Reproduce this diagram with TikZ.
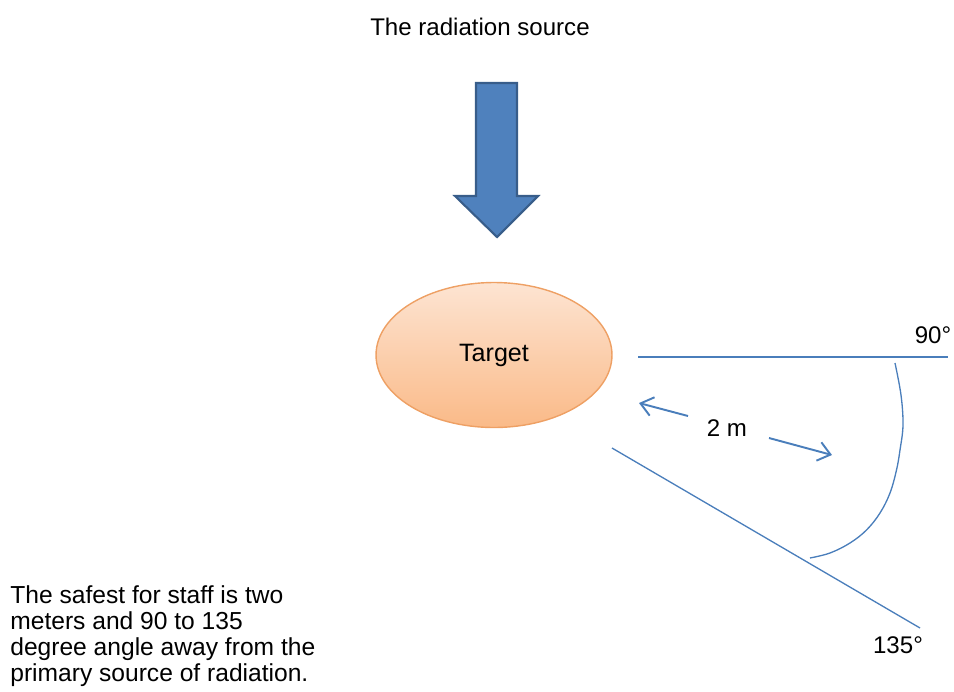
\documentclass[tikz,border=0pt]{standalone}
\usepackage{fontspec}
\setmainfont{Liberation Sans}
\usepackage{xcolor}
\usetikzlibrary{shapes.geometric,arrows.meta,positioning}

\definecolor{lineblue}{RGB}{74,126,187}
\definecolor{beamfill}{RGB}{79,129,189}
\definecolor{beamdraw}{RGB}{56,93,138}
\definecolor{peachtop}{RGB}{253,228,210}
\definecolor{peachbottom}{RGB}{250,186,136}
\definecolor{peachdraw}{RGB}{238,160,100}

\begin{document}
\begin{tikzpicture}[x=0.02cm, y=-0.02cm]
    % Styles
    \tikzstyle{txt}=[font=\fontsize{13.7}{15}\selectfont, inner sep=0pt]
    \tikzstyle{target}=[ellipse, minimum width=4.72cm, minimum height=2.9cm, draw=peachdraw, line width=0.8pt, top color=peachtop, bottom color=peachbottom, font=\fontsize{14.3}{15}\selectfont]
    \tikzstyle{guide}=[draw=lineblue, line width=0.75pt]
    \tikzstyle{dist}=[-{Straight Barb[length=0.24cm, width=0.38cm]}, draw=lineblue, line width=1.1pt]
    \tikzstyle{beam}=[fill=beamfill, draw=beamdraw, line width=1.2pt, line join=miter]

    \useasboundingbox (0,0) rectangle (954,691);

    % Source
    \node (source) [txt] at (480,27) {The radiation source};
    \draw [beam] (476,83) -- (517,83) -- (517,196) -- (538,196) -- (497,237) -- (455,196) -- (476,196) -- cycle;

    % Target
    \node (target) [target] at (494,355) {Target};

    % Angle
    \coordinate (h0) at (638,357);
    \coordinate (h1) at (948,357);
    \coordinate (d0) at (612,448);
    \coordinate (d1) at (920,628);
    \draw [guide] (h0) -- (h1);
    \draw [guide] (d0) -- (d1);
    \draw [guide] plot [smooth, tension=0.6] coordinates {(895,363) (901,395) (903,425) (900,450) (896.5,470) (890,493) (880,513) (866.5,530) (850,543) (830,553) (810,558)};
    \node (deg90) [txt] at (933,335) {90°};
    \node (deg135) [txt] at (898,645) {135°};

    % Distance
    \node (dist) [txt] at (727,428) {2 m};
    \coordinate (l0) at (688,416);
    \coordinate (l1) at (639,403);
    \coordinate (r0) at (769,438);
    \coordinate (r1) at (832,455);
    \draw [dist] (l0) -- (l1);
    \draw [dist] (r0) -- (r1);

    % Note
    \node (note) [txt, align=left, anchor=north west, font=\fontsize{14}{14.8}\selectfont] at (10,585) {The safest for staff is two\\meters and 90 to 135\\degree angle away from the\\primary source of radiation.};

\end{tikzpicture}
\end{document}
